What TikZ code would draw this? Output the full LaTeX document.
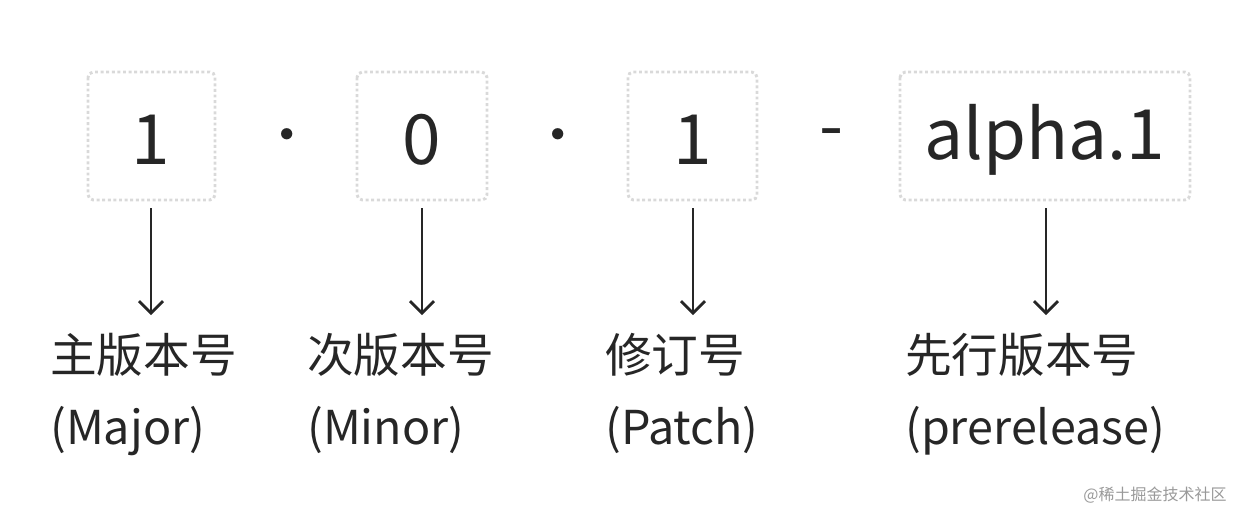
\documentclass[tikz,border=0pt]{standalone}
\usepackage{fontspec}
\setmainfont{Noto Sans CJK SC}
\usetikzlibrary{arrows.meta}
\begin{document}
\begin{tikzpicture}[x=0.75pt,y=-0.75pt,
  box/.style={draw=black!15,line width=2.2pt,dotted,rounded corners=4pt},
  big/.style={font=\fontsize{52}{60}\selectfont,text=black!85},
  lab/.style={anchor=north west,align=left,font=\fontsize{35}{54}\selectfont,text=black!85,inner sep=0pt},
  arr/.style={-{Straight Barb[length=9pt,width=18pt]},line width=2pt,black!85}]
\useasboundingbox (0,0) rectangle (1240,512);
\draw[box] (88,72) rectangle (215,200);
\draw[box] (357,72) rectangle (487,200);
\draw[box] (628,72) rectangle (757,200);
\draw[box] (900,72) rectangle (1190,200);
\node[big] (n1) at (151,140) {1};
\node[big] (n2) at (422,140) {0};
\node[big] (n3) at (693,140) {1};
\node[big] (n4) at (1045,140) {alpha.1};
\node[big,font=\fontsize{40}{48}\selectfont] (d1) at (287,142) {·};
\node[big,font=\fontsize{40}{48}\selectfont] (d2) at (558,142) {·};
\node[big] (d3) at (832,140) {-};
\coordinate (a1) at (151,208); \coordinate (b1) at (151,315);
\coordinate (a2) at (422,208); \coordinate (b2) at (422,315);
\coordinate (a3) at (693,208); \coordinate (b3) at (693,315);
\coordinate (a4) at (1046,208); \coordinate (b4) at (1046,315);
\draw[arr] (a1)--(b1); \draw[arr] (a2)--(b2); \draw[arr] (a3)--(b3); \draw[arr] (a4)--(b4);
\node[lab] (l1) at (50,333) {主版本号\\(Major)};
\node[lab] (l2) at (307,333) {次版本号\\(Minor)};
\node[lab] (l3) at (605,333) {修订号\\(Patch)};
\node[lab] (l4) at (905,333) {先行版本号\\(prerelease)};
\node[font=\fontsize{12}{14}\selectfont,text=black!40] (wm) at (1155,495) {@稀土掘金技术社区};
\end{tikzpicture}
\end{document}
